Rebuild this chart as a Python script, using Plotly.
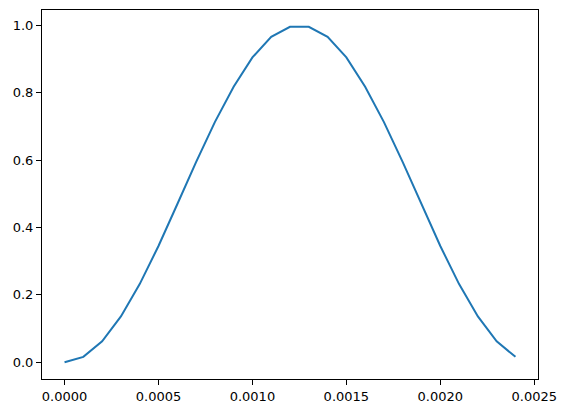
"""Courbe en cloche (style matplotlib) avec plotly"""

import plotly.graph_objects as go

# donnees
x_vals = [0.0000, 0.0001, 0.0002, 0.0003, 0.0004, 0.0005, 0.0006, 0.0007,
          0.0008, 0.0009, 0.0010, 0.0011, 0.0012, 0.0013, 0.0014, 0.0015,
          0.0016, 0.0017, 0.0018, 0.0019, 0.0020, 0.0021, 0.0022, 0.0023,
          0.0024]
y_vals = [0.000, 0.016, 0.062, 0.136, 0.232, 0.345, 0.469, 0.594,
          0.713, 0.818, 0.905, 0.966, 0.996, 0.996, 0.966, 0.905,
          0.818, 0.713, 0.594, 0.469, 0.345, 0.232, 0.136, 0.062,
          0.016]
x_ticks = [0.0, 0.0005, 0.0010, 0.0015, 0.0020, 0.0025]
x_labels = ["0.0000", "0.0005", "0.0010", "0.0015", "0.0020", "0.0025"]
y_ticks = [0.0, 0.2, 0.4, 0.6, 0.8, 1.0]
y_labels = ["0.0", "0.2", "0.4", "0.6", "0.8", "1.0"]


def axe(ticks, labels, rng):
    return dict(
        range=rng, tickvals=ticks, ticktext=labels, automargin=False,
        showgrid=False, zeroline=False,
        showline=True, linecolor="black", linewidth=1, mirror=True,
        ticks="outside", ticklen=5, tickwidth=1, tickcolor="black",
        tickfont=dict(size=13, color="black"),
    )


def main():
    fig = go.Figure()
    fig.add_trace(go.Scatter(x=x_vals, y=y_vals, mode="lines",
                             line=dict(color="#1f77b4", width=2)))
    x_pad = (max(x_vals) - min(x_vals)) * 0.05
    y_pad = (max(y_vals) - min(y_vals)) * 0.05
    fig.update_layout(
        width=568, height=413,
        margin=dict(l=42, r=30, t=10, b=34),
        paper_bgcolor="white", plot_bgcolor="white",
        font=dict(family="DejaVu Sans", color="black"),
        showlegend=False,
        xaxis=axe(x_ticks, x_labels, [min(x_vals) - x_pad, max(x_vals) + x_pad]),
        yaxis=axe(y_ticks, y_labels, [min(y_vals) - y_pad, max(y_vals) + y_pad]),
    )
    # la page html a une marge par defaut de 8px
    fig.write_html("out.html", config={"displayModeBar": False},
                   post_script="document.body.style.margin='0';")


if __name__ == "__main__":
    main()
